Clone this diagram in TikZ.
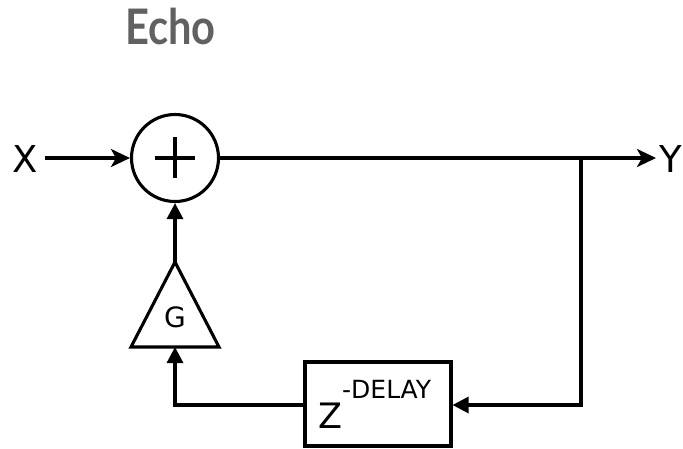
\documentclass[tikz,border=0pt]{standalone}
\usepackage{fontspec}
\usepackage{graphicx}
\setmainfont{DejaVu Sans}
\newfontfamily\latofont{Lato}
\usetikzlibrary{arrows.meta}
\begin{document}
\begin{tikzpicture}[x=1pt,y=-1pt,
  wire/.style={line width=3.1pt},
  harrow/.style={wire,-{Stealth[length=19pt,width=18pt,inset=5pt]}},
  varrow/.style={wire,-{Triangle[length=16pt,width=16pt]}},
  lbl/.style={inner sep=0pt,font=\fontsize{37}{37}\selectfont},
  blk/.style={draw,line width=3.1pt,inner sep=0pt}]
\useasboundingbox (0,0) rectangle (683,448);
% title
\node[inner sep=0pt,text=black!62,font=\latofont\bfseries\fontsize{49}{49}\selectfont,anchor=base west] (title) at (125,44) {\scalebox{0.85}[1]{Echo}};
% input / output labels
\node[lbl,anchor=base] (x) at (25,172) {X};
\node[lbl,anchor=base west] (y) at (659,172) {Y};
% summing junction
\node[blk,circle,minimum size=87pt] (sum) at (175,158) {};
\draw[wire] ([xshift=-20pt]sum.center) -- ([xshift=20pt]sum.center);
\draw[wire] ([yshift=-20pt]sum.center) -- ([yshift=21pt]sum.center);
% gain triangle
\coordinate (gtop) at (175,262);
\coordinate (gbase) at (175,347);
\draw[line width=3.1pt,line join=miter] (gtop) -- (131,347) -- (219,347) -- cycle;
\node[inner sep=0pt,anchor=base,font=\fontsize{28}{28}\selectfont] (g) at (175,327) {G};
% delay block
\node[blk,rectangle,minimum width=146pt,minimum height=84pt] (delay) at (378,404) {};
\node[inner sep=0pt,anchor=base west,font=\fontsize{35}{35}\selectfont] (dtext) at (318,428)
  {Z\raisebox{30pt}{\fontsize{25}{25}\selectfont -DELAY}};
% connectors
\coordinate (split) at (581,158);
\coordinate (corner) at (581,405);
\coordinate (lcorner) at (175,405);
\draw[harrow] ([xshift=7pt]x.east |- sum.west) -- (sum.west);
\draw[harrow] (sum.east) -- ([xshift=-3pt]y.west |- sum.east);
\draw[varrow] (split) -- (corner) -- (delay.east |- corner);
\draw[varrow] (delay.west |- corner) -- (lcorner) -- (gbase);
\draw[varrow] (gtop) -- (sum.south);
\end{tikzpicture}
\end{document}
